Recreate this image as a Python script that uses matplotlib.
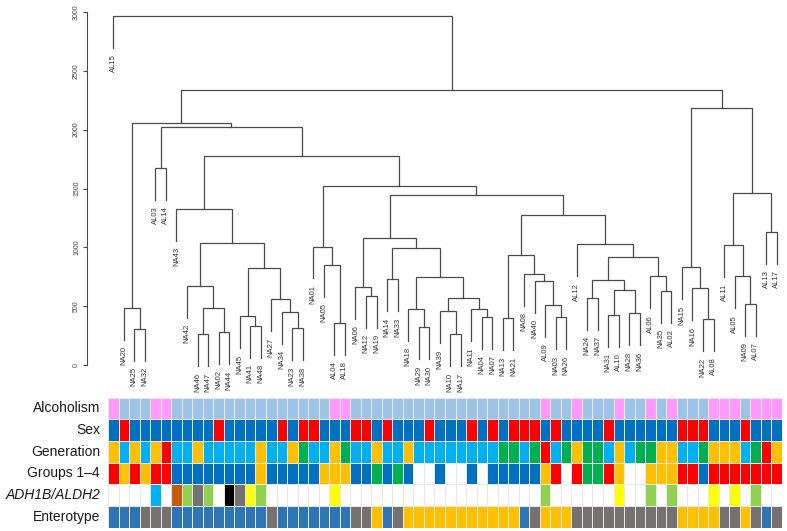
import matplotlib.pyplot as plt

# hierarchical clustering: (left, right, height); str = leaf, int = earlier merge
merges = [
    ('NA25', 'NA32', 308),   # 0
    ('NA20', 0, 487),        # 1
    ('AL03', 'AL14', 1676),  # 2
    ('NA46', 'NA47', 260),   # 3
    ('NA02', 'NA44', 280),   # 4
    (3, 4, 481),             # 5
    ('NA42', 5, 673),        # 6
    ('NA41', 'NA48', 334),   # 7
    ('NA45', 7, 416),        # 8
    ('NA23', 'NA38', 311),   # 9
    ('NA34', 9, 453),        # 10
    ('NA27', 10, 558),       # 11
    (8, 11, 821),            # 12
    (6, 12, 1033),           # 13
    ('NA43', 13, 1327),      # 14
    ('AL04', 'AL18', 357),   # 15
    ('NA05', 15, 849),       # 16
    ('NA01', 16, 1007),      # 17
    ('NA12', 'NA19', 589),   # 18
    ('NA06', 18, 662),       # 19
    ('NA14', 'NA33', 728),   # 20
    ('NA29', 'NA30', 320),   # 21
    ('NA18', 21, 478),       # 22
    ('NA10', 'NA17', 260),   # 23
    ('NA39', 23, 456),       # 24
    ('NA04', 'NA07', 410),   # 25
    ('NA11', 25, 473),       # 26
    (24, 26, 566),           # 27
    (22, 27, 747),           # 28
    (20, 28, 993),           # 29
    (19, 29, 1078),          # 30
    ('NA13', 'NA21', 399),   # 31
    ('NA03', 'NA26', 405),   # 32
    ('AL09', 32, 507),       # 33
    ('NA40', 33, 713),       # 34
    ('NA08', 34, 773),       # 35
    (31, 35, 934),           # 36
    ('NA24', 'NA37', 572),   # 37
    ('NA31', 'AL10', 427),   # 38
    ('NA28', 'NA36', 441),   # 39
    (38, 39, 640),           # 40
    (37, 40, 719),           # 41
    ('NA35', 'AL02', 631),   # 42
    ('AL06', 42, 753),       # 43
    (41, 43, 920),           # 44
    ('AL12', 44, 1025),      # 45
    (36, 45, 1271),          # 46
    (30, 46, 1446),          # 47
    (17, 47, 1523),          # 48
    (14, 48, 1780),          # 49
    (2, 49, 2026),           # 50
    (1, 50, 2057),           # 51
    ('NA22', 'AL08', 388),   # 52
    ('NA16', 52, 651),       # 53
    ('NA15', 53, 829),       # 54
    ('NA09', 'AL07', 518),   # 55
    ('AL05', 55, 753),       # 56
    ('AL11', 56, 1019),      # 57
    ('AL13', 'AL17', 1129),  # 58
    (57, 58, 1466),          # 59
    (54, 59, 2185),          # 60
    (51, 60, 2341),          # 61
    ('AL15', 61, 2969),      # 62
]
hang = 271

# annotation tracks, in leaf order (left to right)
sex = 'MFMMMMMMMM' 'FMMMMMFMFF' 'MMMFFMFMMM' 'FMMMFMFMFF' 'FMFMMMMFMM' 'MMMMFFFMMM' 'FMMM'
generation = 'ososorssos' 'ssssossogs' 'sogssossos' 'sssssssggs' 'grsgoggsos' 'ggoossgooo' 'sgro'
groups = 'rororrbbbb' 'bbbbobbbbb' 'ooobbgbgbw' 'wbwwbwbbbb' 'borwrggrow' 'wooorrbrrr' 'rrrr'
adh = 'wwwwswnlkl' 'wxkylwwwww' 'wywwwwwwww' 'wwwwwwwwww' 'wlwwwwwwyw' 'wlwlwwwywy' 'wlww'
enterotype = 'bbbkkkbbbb' 'bbbbbkbbbb' 'bbbkkobkoo' 'ooooooooob' 'koookkkkkk' 'kkkkooookk' 'okbk'

alc_colors = {'AL': '#FF99FF', 'NA': '#9DC3E6'}
sex_colors = {'M': '#0070C0', 'F': '#FF0000'}
gen_colors = {'o': '#FFC000', 's': '#00B0F0', 'r': '#FF0000', 'g': '#00B050'}
grp_colors = {'r': '#FF0000', 'o': '#FFC000', 'b': '#0070C0', 'g': '#00B050', 'w': '#FFFFFF'}
adh_colors = {'w': '#FFFFFF', 's': '#00B0F0', 'n': '#C55A11', 'l': '#92D050',
              'k': '#767171', 'x': '#000000', 'y': '#FFFF00'}
ent_colors = {'b': '#2E75B6', 'k': '#767171', 'o': '#FFC000'}

LINE = '#4a4a4a'


def draw_node(ax, node, order):
    # returns x position and height of the node; leaves have height None
    if isinstance(node, str):
        order.append(node)
        return len(order) - 0.5, None
    a, b, h = merges[node]
    xa, ha = draw_node(ax, a, order)
    xb, hb = draw_node(ax, b, order)
    ends = []
    for x, hc, child in [(xa, ha, a), (xb, hb, b)]:
        if hc is None:
            hc = h - hang
            ax.text(x, hc - 55, child, rotation=90, ha='center', va='top',
                    fontsize=5.5, color='#333333', clip_on=False)
        ends.append(hc)
    ax.plot([xa, xa, xb, xb], [ends[0], h, h, ends[1]], color=LINE, lw=0.9,
            clip_on=False, solid_joinstyle='miter')
    return (xa + xb) / 2, h


def main():
    plt.rcParams['font.family'] = ['Liberation Sans', 'DejaVu Sans']
    fig = plt.figure(figsize=(7.87, 5.31), dpi=100)
    W, H = 787, 531

    # dendrogram
    ax = fig.add_axes([87 / W, (H - 365) / H, 695 / W, 353 / H])
    order = []
    draw_node(ax, len(merges) - 1, order)
    n = len(order)
    ax.set_xlim(-21 / 10.53, n)
    ax.set_ylim(0, 3000)
    for s in ['top', 'right', 'bottom']:
        ax.spines[s].set_visible(False)
    ax.spines['left'].set_bounds(0, 3000)
    ax.spines['left'].set_color(LINE)
    ax.spines['left'].set_linewidth(0.8)
    ax.set_xticks([])
    ax.set_yticks(range(0, 3001, 500))
    ax.tick_params(axis='y', length=3, width=0.8, colors=LINE, labelsize=5,
                   labelcolor='#444444', pad=2, labelrotation=90)
    for lab in ax.get_yticklabels():
        lab.set_verticalalignment('center')

    # annotation tracks
    alcoholism = ['AL' if name.startswith('AL') else 'NA' for name in order]
    rows = [
        ('Alcoholism', alcoholism, alc_colors, 'normal'),
        ('Sex', sex, sex_colors, 'normal'),
        ('Generation', generation, gen_colors, 'normal'),
        ('Groups 1\u20134', groups, grp_colors, 'normal'),
        ('ADH1B/ALDH2', adh, adh_colors, 'italic'),
        ('Enterotype', enterotype, ent_colors, 'normal'),
    ]
    tax = fig.add_axes([108 / W, (H - 527.7) / H, 674 / W, 130.2 / H])
    x = [i + 0.5 for i in range(n)]
    for k, (label, values, colors, style) in enumerate(rows):
        tax.bar(x, 1, bottom=k, width=1, color=[colors[v] for v in values],
                edgecolor='#e9e9e9', linewidth=0.7)
        tax.text(-0.75, k + 0.5, label, ha='right', va='center', fontsize=10,
                 style=style, color='#1a1a1a', clip_on=False)
    tax.set_xlim(0, n)
    tax.set_ylim(len(rows), 0)
    tax.axis('off')

    fig.savefig('out.png', dpi=100)


if __name__ == '__main__':
    main()
